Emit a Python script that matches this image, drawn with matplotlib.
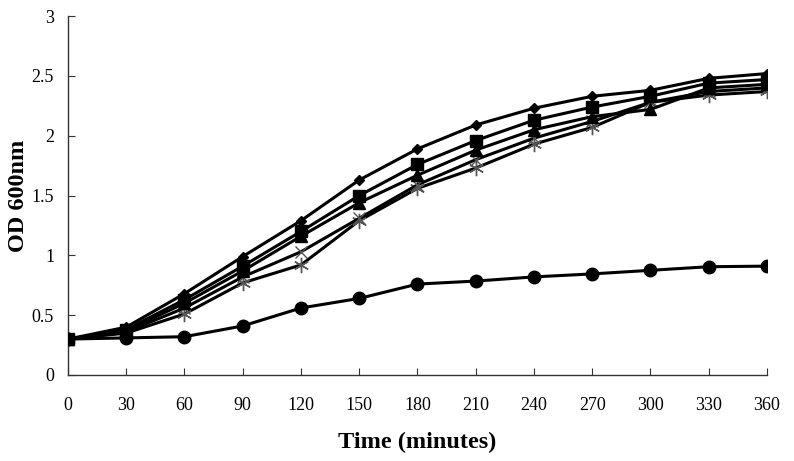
import matplotlib
matplotlib.use("Agg")
import matplotlib.pyplot as plt

time = [0, 30, 60, 90, 120, 150, 180, 210, 240, 270, 300, 330, 360]
diamond = [0.30, 0.40, 0.68, 0.99, 1.29, 1.63, 1.89, 2.09, 2.23, 2.33, 2.38, 2.48, 2.52]
square = [0.30, 0.38, 0.63, 0.91, 1.20, 1.50, 1.76, 1.96, 2.13, 2.24, 2.33, 2.44, 2.47]
triangle = [0.30, 0.37, 0.60, 0.87, 1.16, 1.44, 1.67, 1.88, 2.05, 2.16, 2.22, 2.40, 2.43]
xmark = [0.30, 0.36, 0.56, 0.82, 1.03, 1.31, 1.59, 1.80, 1.98, 2.12, 2.28, 2.37, 2.40]
aster = [0.30, 0.35, 0.51, 0.77, 0.92, 1.29, 1.56, 1.73, 1.93, 2.07, 2.28, 2.34, 2.37]
circle = [0.30, 0.31, 0.32, 0.41, 0.56, 0.64, 0.76, 0.785, 0.82, 0.845, 0.875, 0.905, 0.91]

plt.rcParams['font.family'] = ['Liberation Serif', 'DejaVu Serif']

fig = plt.figure(figsize=(7.94, 4.61), dpi=100)
ax = fig.add_axes([0.0856, 0.1866, 0.8804, 0.7784])

lw = 2.2
ax.plot(time, aster, color='black', lw=lw, marker=(6, 2, 0), ms=11, mec='#555555', mew=1.0, zorder=3)
ax.plot(time, xmark, color='black', lw=lw, marker='x', ms=9, mec='#555555', mew=1.0, zorder=3)
ax.plot(time, triangle, color='black', lw=lw, marker='^', ms=8, mec='black', mfc='black', zorder=4)
ax.plot(time, square, color='black', lw=lw, marker='s', ms=8, mec='black', mfc='black', zorder=4)
ax.plot(time, diamond, color='black', lw=lw, marker='D', ms=5.5, mec='black', mfc='black', zorder=4)
ax.plot(time, circle, color='black', lw=lw, marker='o', ms=9, mec='black', mfc='black', zorder=4)

ax.set_xlim(0, 360)
ax.set_ylim(0, 3)
ax.set_xticks(time)
ax.set_xticklabels([str(t) for t in time])
ax.set_yticks([0, 0.5, 1, 1.5, 2, 2.5, 3])
ax.set_yticklabels(['0', '0.5', '1', '1.5', '2', '2.5', '3'])
ax.spines['top'].set_visible(False)
ax.spines['right'].set_visible(False)
for s in ('left', 'bottom'):
    ax.spines[s].set_color('#333333')
    ax.spines[s].set_linewidth(1.0)
ax.tick_params(axis='x', direction='in', length=5, pad=16, labelsize=13, colors='#333333')
ax.tick_params(axis='y', direction='in', length=5, pad=10, labelsize=13, colors='#333333')
for lbl in ax.get_xticklabels() + ax.get_yticklabels():
    lbl.set_color('black')

ax.set_xlabel('Time (minutes)', fontsize=17.5, fontweight='bold', labelpad=13)
ax.set_ylabel('OD 600nm', fontsize=17.5, fontweight='bold', labelpad=2)

fig.savefig('out.png', dpi=100)
